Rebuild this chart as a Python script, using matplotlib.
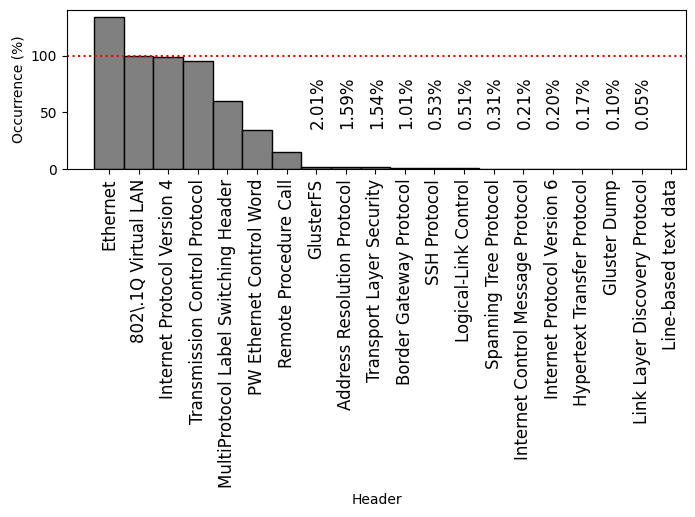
import numpy as np
import matplotlib
matplotlib.use("Agg")
import matplotlib.pyplot as plt

headers = [
    "Ethernet", "802\\.1Q Virtual LAN", "Internet Protocol Version 4",
    "Transmission Control Protocol", "MultiProtocol Label Switching Header",
    "PW Ethernet Control Word", "Remote Procedure Call", "GlusterFS",
    "Address Resolution Protocol", "Transport Layer Security",
    "Border Gateway Protocol", "SSH Protocol", "Logical-Link Control",
    "Spanning Tree Protocol", "Internet Control Message Protocol",
    "Internet Protocol Version 6", "Hypertext Transfer Protocol",
    "Gluster Dump", "Link Layer Discovery Protocol", "Line-based text data",
]
occurrence = [134.5, 100.0, 99.1, 95.3, 59.9, 34.2, 14.7, 2.01, 1.59, 1.54,
              1.01, 0.53, 0.51, 0.31, 0.21, 0.20, 0.17, 0.10, 0.05, 0.01]

fig, ax = plt.subplots(figsize=(6.95, 5.17), dpi=100)
plt.subplots_adjust(left=0.0964, right=0.987, top=0.981, bottom=0.673)

x = np.arange(len(headers))
ax.bar(x, occurrence, width=1.0, color="gray", edgecolor="black")
ax.axhline(100, color="red", linestyle=":")

# percentage labels for the small bars
for i, v in enumerate(occurrence):
    if 0.05 <= v < 10:
        ax.text(i + 0.05, 35, f"{v:.2f}%", rotation=90, ha="center", va="bottom", fontsize=12)

ax.set_xticks(x)
ax.set_xticklabels(headers, rotation=90, fontsize=12)
ax.set_xlim(-1.42, 19.5)
ax.set_ylim(0, 140.5)
ax.set_yticks([0, 50, 100])
ax.set_xlabel("Header")
ax.set_ylabel("Occurrence (%)")

plt.savefig("out.png", dpi=100)
